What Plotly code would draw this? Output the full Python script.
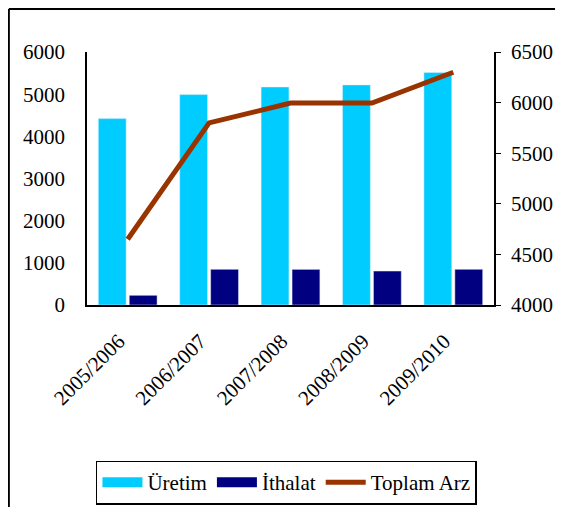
import plotly.graph_objects as go

### Data ###
years = ["2005/2006", "2006/2007", "2007/2008", "2008/2009", "2009/2010"]
uretim = [4420, 4990, 5170, 5220, 5515]
ithalat = [230, 845, 845, 805, 845]
toplam_arz = [4650, 5800, 5995, 5995, 6300]

font_name = "Liberation Serif"
cyan, navy, brown = "#00CCFF", "#000080", "#993300"
tfont = dict(family=font_name, size=21, color="black")

fig = go.Figure()
fig.add_trace(go.Bar(x=years, y=uretim, name="Üretim", marker_color=cyan, showlegend=False))
fig.add_trace(go.Bar(x=years, y=ithalat, name="İthalat", marker_color=navy, showlegend=False))
fig.add_trace(go.Scatter(x=years, y=toplam_arz, name="Toplam Arz", mode="lines",
                         line=dict(color=brown, width=5), yaxis="y2", showlegend=False))

# legend entries (wide swatches like the original)
for nm, col, w in [("Üretim", cyan, 16), ("İthalat", navy, 16), ("Toplam Arz", brown, 5)]:
    fig.add_trace(go.Scatter(x=[None], y=[None], name=nm, mode="lines",
                             line=dict(color=col, width=w)))

# page body has an 8px margin -> figure made smaller so nothing scrolls
fig.update_layout(
    width=548, height=499,
    margin=dict(l=79, r=62, t=44, b=202, autoexpand=False),
    paper_bgcolor="white", plot_bgcolor="white",
    font=tfont,
    barmode="group", bargap=0.24, bargroupgap=0.1,
    showlegend=True,
    legend=dict(orientation="h", x=0.49, xanchor="center", y=-0.615, yanchor="top",
                bordercolor="black", borderwidth=1.5, font=tfont,
                itemwidth=40, tracegroupgap=0),
    xaxis=dict(showline=True, linecolor="black", linewidth=1.5, ticks="",
               tickangle=-45, showgrid=False, automargin=False, tickfont=tfont,
               ticklabelstandoff=14, ticklabelshift=-9),
    yaxis=dict(range=[0, 6000], dtick=1000, showline=True, linecolor="black",
               linewidth=1.5, ticks="", showgrid=False, zeroline=False, tickfont=tfont,
               ticklabelstandoff=16, automargin=False),
    yaxis2=dict(range=[4000, 6500], dtick=500, overlaying="y", side="right",
                showline=True, linecolor="black", linewidth=1.5, ticks="outside",
                ticklen=5, tickcolor="black", showgrid=False, zeroline=False, tickfont=tfont,
                ticklabelstandoff=6, automargin=False),
)

# outer frame (left and top edges visible)
fig.add_shape(type="line", xref="paper", yref="paper", x0=-0.192, x1=-0.192, y0=-0.85, y1=1.17,
              line=dict(color="black", width=2))
fig.add_shape(type="line", xref="paper", yref="paper", x0=-0.192, x1=1.15, y0=1.17, y1=1.17,
              line=dict(color="black", width=2))

fig.write_html("out.html")
